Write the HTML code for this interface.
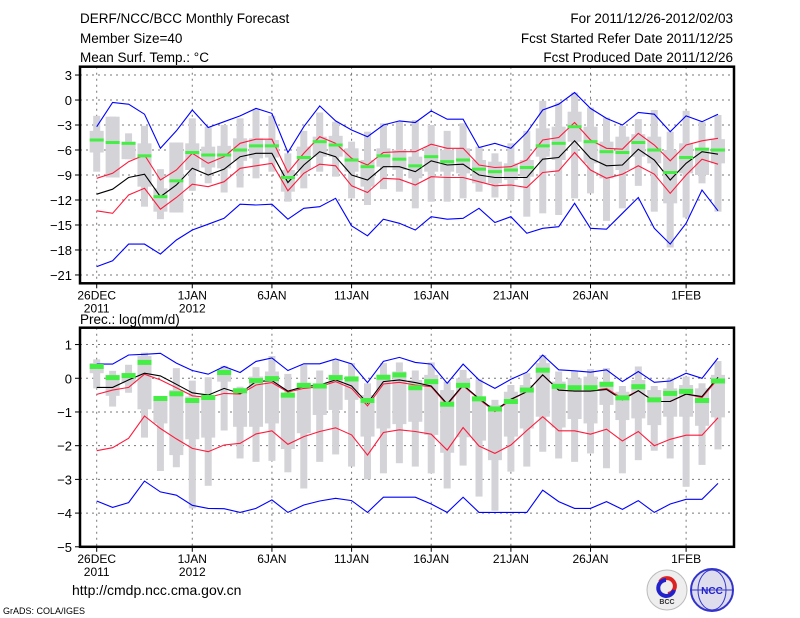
<!DOCTYPE html>
<html><head><meta charset="utf-8"><style>
body{margin:0;background:#fff;}
svg{display:block;font-family:"Liberation Sans",sans-serif;}
</style></head><body>
<svg id="c" width="800" height="618" xmlns="http://www.w3.org/2000/svg">
<g font-size="13.5" fill="#000">
<text x="80" y="23">DERF/NCC/BCC Monthly Forecast</text>
<text x="80" y="43">Member Size=40</text>
<text x="80" y="62">Mean Surf. Temp.: °C</text>
<text x="733" y="23" text-anchor="end">For 2011/12/26-2012/02/03</text>
<text x="733" y="43" text-anchor="end">Fcst Started Refer Date 2011/12/25</text>
<text x="733" y="62" text-anchor="end">Fcst Produced Date 2011/12/26</text>
<text x="80" y="324" font-size="13.5">Prec.: log(mm/d)</text>
</g>
<g id="p1"></g>
<g id="p2"></g>
<g>
<text x="72" y="595" font-size="14">http://cmdp.ncc.cma.gov.cn</text>
<text x="3" y="614" font-size="9">GrADS: COLA/IGES</text>
<g>
<circle cx="667" cy="590" r="20" fill="#eee" stroke="#bbb"/>
<path d="M660 582 a8 8 0 1 1 8 12" fill="none" stroke="#d22" stroke-width="4"/>
<path d="M674 590 a8 8 0 1 1 -8 -10" fill="none" stroke="#22c" stroke-width="4"/>
<text x="667" y="604" font-size="7" text-anchor="middle" font-weight="bold" fill="#333">BCC</text>
</g>
<g>
<circle cx="712" cy="590" r="21" fill="#dde" stroke="#33c" stroke-width="2"/>
<ellipse cx="712" cy="590" rx="14" ry="20" fill="none" stroke="#33c"/>
<line x1="691" y1="590" x2="733" y2="590" stroke="#33c"/>
<text x="712" y="594" font-size="10" text-anchor="middle" font-weight="bold" fill="#22c">NCC</text>
</g>
</g>
</svg>
<script>
// ---- temperature data (40 days from 26 Dec) ----
const tBlueTop=[-3.2,-0.3,-0.5,-1.7,-5.8,-3.7,-1.2,-3.3,-2.6,-1.9,-1.0,-1.6,-6.3,-3.2,-0.7,-2.5,-3.6,-4.4,-3.0,-2.5,-2.7,-1.3,-2.3,-2.3,-5.7,-5.2,-5.8,-3.9,-1.2,-0.5,0.9,-1.0,-2.2,-3.0,-1.5,-1.7,-3.8,-1.9,-2.6,-1.7];
const tRedTop=[-9.4,-8.8,-7.4,-6.6,-9.6,-8.4,-6.4,-7.6,-6.8,-5.2,-4.7,-4.7,-8.7,-6.4,-4.4,-5.2,-7.0,-7.8,-6.3,-6.2,-6.2,-5.3,-5.8,-5.8,-7.8,-8.1,-8.0,-7.2,-4.8,-4.5,-2.7,-4.8,-5.8,-5.9,-4.0,-5.4,-7.3,-5.4,-4.9,-4.6];
const tMean=[-11.3,-10.7,-9.3,-8.9,-11.6,-10.2,-8.2,-9.0,-8.3,-6.8,-6.4,-6.4,-9.9,-7.8,-6.2,-6.8,-9.0,-9.6,-8.0,-8.0,-8.6,-7.3,-7.8,-7.7,-9.0,-9.3,-9.3,-9.3,-7.1,-6.9,-4.9,-7.0,-7.9,-7.8,-5.9,-7.2,-9.6,-7.6,-6.2,-6.5];
const tRedBot=[-13.3,-13.6,-11.4,-10.6,-13.1,-11.7,-10.1,-10.4,-9.8,-8.2,-7.9,-7.6,-10.9,-8.8,-7.7,-7.9,-10.3,-11.1,-9.4,-9.5,-10.2,-9.2,-9.3,-9.3,-9.8,-10.3,-10.2,-10.5,-8.7,-8.5,-6.3,-8.4,-9.4,-8.9,-7.9,-8.9,-11.2,-9.0,-7.1,-7.7];
const tBlueBot=[-20.0,-19.3,-17.3,-17.3,-18.5,-16.8,-15.6,-14.9,-14.2,-12.5,-12.6,-12.5,-14.3,-13.0,-12.8,-11.8,-15.1,-16.3,-14.3,-14.8,-15.6,-14.0,-14.3,-14.2,-13.0,-14.7,-14.0,-16.0,-15.4,-15.2,-12.4,-15.4,-15.5,-13.6,-11.7,-15.4,-17.3,-14.8,-10.8,-13.3];
const tMedian=[-4.8,-5.1,-5.2,-6.7,-11.6,-9.7,-6.3,-6.6,-6.6,-6.0,-5.5,-5.5,-9.3,-6.9,-5.0,-5.4,-7.2,-8.0,-6.7,-7.1,-7.9,-6.8,-7.4,-7.2,-8.3,-8.6,-8.4,-8.1,-5.5,-5.2,-3.2,-5.0,-6.2,-6.3,-5.1,-6.0,-8.7,-6.9,-5.9,-6.0];
const tWhiskTop=[-1.9,-2.0,-4.0,-3.1,-8.3,-5.1,-2.2,-3.2,-3.0,-2.2,-1.1,-1.9,-6.4,-3.7,-1.5,-2.6,-5.0,-3.8,-2.8,-2.6,-2.4,-3.0,-3.7,-2.8,-5.6,-6.4,-5.2,-3.7,-0.1,-0.3,0.9,-0.9,-2.1,-3.1,-2.3,-1.2,-3.8,-1.3,-2.6,-1.8];
const tWhiskBot=[-8.6,-9.3,-7.1,-12.8,-14.3,-13.5,-10.9,-10.0,-11.1,-10.5,-9.4,-8.6,-12.2,-10.6,-8.6,-9.2,-11.8,-12.6,-10.7,-11.0,-13.0,-12.2,-12.2,-11.8,-11.0,-11.7,-12.0,-14.0,-13.6,-13.8,-11.8,-11.2,-14.5,-13.0,-10.3,-13.4,-17.7,-14.1,-10.0,-13.4];
const tBoxTop=[-3.7,-2.0,-5.0,-5.2,-10.6,-5.1,-5.2,-5.6,-5.5,-4.6,-4.6,-4.8,-8.4,-5.6,-4.4,-4.3,-5.8,-7.2,-5.8,-6.0,-6.8,-5.6,-6.0,-5.8,-7.2,-7.4,-7.6,-7.2,-3.4,-3.2,-1.4,-3.2,-5.0,-4.4,-4.1,-4.4,-6.0,-5.2,-5.8,-4.7];
const tBoxBot=[-6.3,-9.3,-7.1,-10.4,-13.4,-13.5,-8.4,-8.1,-8.2,-7.3,-7.0,-6.9,-11.0,-8.4,-6.8,-6.8,-8.6,-10.4,-8.0,-8.4,-9.4,-8.6,-8.6,-8.8,-10.0,-10.0,-9.6,-9.2,-6.8,-7.2,-5.0,-7.6,-9.4,-8.4,-6.8,-7.6,-12.4,-8.8,-9.0,-7.6];
const tTicks=[3,0,-3,-6,-9,-12,-15,-18,-21];
// ---- precipitation data ----
const pBlueTop=[0.42,0.42,0.69,0.71,0.74,0.45,0.23,0.12,0.35,0.17,0.5,0.6,0.23,0.43,0.43,0.57,0.43,-0.13,0.5,0.62,0.47,0.42,-0.15,0.42,-0.05,-0.3,-0.03,0.18,0.69,0.25,0.22,0.18,0.25,-0.1,0.2,-0.12,-0.08,0.15,0,0.6];
const pRedTop=[-0.48,-0.35,-0.27,0.12,-0.05,-0.28,-0.52,-0.57,-0.45,-0.47,-0.2,-0.13,-0.41,-0.3,-0.25,-0.1,-0.3,-0.82,-0.17,-0.12,-0.2,-0.25,-0.79,-0.22,-0.62,-0.99,-0.64,-0.4,0.1,-0.35,-0.38,-0.38,-0.3,-0.6,-0.37,-0.69,-0.69,-0.47,-0.57,-0.02];
const pMean=[-0.27,-0.27,-0.05,0.15,0.07,-0.18,-0.43,-0.5,-0.3,-0.45,-0.1,-0.07,-0.38,-0.25,-0.2,-0.05,-0.23,-0.74,-0.1,-0.05,-0.13,-0.23,-0.76,-0.2,-0.6,-0.96,-0.62,-0.4,0.1,-0.35,-0.38,-0.38,-0.33,-0.64,-0.37,-0.69,-0.69,-0.47,-0.54,0.03];
const pRedBot=[-2.15,-2.06,-1.78,-1.12,-1.49,-1.8,-2.08,-2.18,-1.98,-1.93,-1.65,-1.56,-1.96,-1.73,-1.58,-1.47,-1.68,-2.28,-1.61,-1.53,-1.58,-1.66,-2.13,-1.46,-2.01,-2.23,-1.98,-1.55,-1.14,-1.56,-1.56,-1.66,-1.51,-1.86,-1.58,-2.0,-1.81,-1.69,-1.69,-1.17];
const pBlueBot=[-3.64,-3.83,-3.69,-3.05,-3.37,-3.47,-3.77,-3.86,-3.87,-3.98,-3.86,-3.61,-3.98,-3.76,-3.64,-3.56,-3.63,-3.98,-3.53,-3.53,-3.53,-3.73,-3.98,-3.53,-3.98,-3.98,-3.98,-3.98,-3.32,-3.66,-3.86,-3.86,-3.66,-3.89,-3.63,-3.98,-3.73,-3.59,-3.59,-3.12];
const pMedian=[0.35,0.02,0.08,0.47,-0.6,-0.46,-0.66,-0.57,0.17,-0.37,-0.07,-0.01,-0.5,-0.21,-0.23,0.02,-0.02,-0.66,0.03,0.1,-0.28,-0.1,-0.77,-0.21,-0.61,-0.91,-0.69,-0.35,0.24,-0.24,-0.28,-0.28,-0.18,-0.58,-0.25,-0.64,-0.45,-0.39,-0.66,-0.08];
const pWhiskTop=[0.56,0.22,0.4,0.76,-0.54,0.3,-0.07,0.03,0.37,-0.25,0.33,0.66,0.13,0.4,0.23,0.54,0.45,-0.15,0.45,0.47,0.23,0.47,-0.1,0.25,-0.03,-0.64,-0.2,0.15,0.69,0.2,0.22,0.27,0.3,-0.23,0.35,-0.23,0,0.05,-0.15,0.51];
const pWhiskBot=[-0.3,-0.84,-0.43,-1.76,-2.75,-2.64,-3.86,-3.19,-1.55,-2.38,-2.48,-2.45,-2.79,-3.27,-2.48,-2.26,-2.62,-3.0,-2.82,-2.52,-2.62,-2.82,-3.27,-2.59,-3.51,-3.93,-2.77,-2.62,-2.18,-2.38,-2.48,-2.23,-2.67,-2.82,-2.43,-2.15,-2.38,-3.22,-2.57,-2.11];
const pBoxTop=[0.45,0.07,0.15,0.66,-0.6,-0.35,-0.54,-0.54,0.27,-0.3,0.05,0.2,-0.5,-0.17,-0.15,0.1,0.05,-0.5,0.1,0.2,-0.05,0.1,-0.35,0,-0.54,-0.79,-0.4,-0.2,0.45,-0.1,0,0.05,-0.1,-0.4,-0.05,-0.35,-0.3,-0.2,-0.3,0.1];
const pBoxBot=[0.15,-0.52,-0.15,-0.92,-1.34,-2.28,-1.81,-1.76,-0.1,-1.44,-1.44,-1.34,-2.1,-1.63,-1.09,-0.94,-0.64,-1.73,-1.49,-1.36,-1.29,-1.68,-2.21,-1.75,-1.85,-2.43,-1.73,-1.49,-1.14,-1.46,-1.21,-1.34,-0.79,-1.24,-1.19,-1.39,-1.14,-1.14,-1.41,-1.16];
const pTicks=[1,0,-1,-2,-3,-4,-5];
// ---- x axis ----
const xTickDays=[0,6,11,16,21,26,31,37];
const xTickLabels=["26DEC","1JAN","6JAN","11JAN","16JAN","21JAN","26JAN","1FEB"];
const xTickYears=["2011","2012","","","","","",""];

const NS="http://www.w3.org/2000/svg";
function mk(parent,tag,attrs){const e=document.createElementNS(NS,tag);for(const k in attrs)e.setAttribute(k,attrs[k]);parent.appendChild(e);return e;}
const X0=80,X1=734;
function xs(d){return 96.7+d*15.93;}

function panel(g,top,bot,vmax,vmin,ticks,d,opt){
  const ys=v=>top+(vmax-v)/(vmax-vmin)*(bot-top);
  // grid
  ticks.forEach(t=>{
    const y=ys(t);
    if(t>vmin&&t<vmax){const l=mk(g,'line',{x1:X0,x2:X1,y1:y,y2:y,stroke:'#777','stroke-dasharray':'2,4','stroke-width':1});
    
    }
    const tk=mk(g,'line',{x1:X0-5,x2:X0,y1:y,y2:y,stroke:'#000'});
    
    
    const tx=mk(g,'text',{x:X0-8,y:y+5,'text-anchor':'end','font-size':13});
    tx.textContent=String(t).replace('-','\u2212');
    
    
  });
  xTickDays.forEach((dd,i)=>{
    const x=xs(dd);
    const l=mk(g,'line',{x1:x,x2:x,y1:top,y2:bot,stroke:'#777','stroke-dasharray':'2,4'});
    
    
    const tk=mk(g,'line',{x1:x,x2:x,y1:bot,y2:bot+5,stroke:'#000'});
    
    
    const t=mk(g,'text',{x:x,y:bot+16,'text-anchor':'middle','font-size':12});
    t.textContent=xTickLabels[i];
    
    
    if(xTickYears[i]){const t2=mk(g,'text',{x:x,y:bot+29,'text-anchor':'middle','font-size':12});
    t2.textContent=xTickYears[i];
    
    }
  });
  // bars
  for(let i=0;i<d.mean.length;i++){
    const x=xs(i);
    const w=mk(g,'rect',{x:x-3.5,y:ys(d.wt[i]),width:7,height:ys(d.wb[i])-ys(d.wt[i]),fill:'#d3d3d8'});
    
    
    const b=mk(g,'rect',{x:x-7,y:ys(d.bt[i]),width:14,height:ys(d.bb[i])-ys(d.bt[i]),fill:'#d3d3d8'});
    
    
  }
  function line(arr,col,name){
    const p=mk(g,'polyline',{points:arr.map((v,i)=>xs(i).toFixed(1)+','+ys(v).toFixed(1)).join(' '),fill:'none',stroke:col,'stroke-width':1.1});
    
    
  }
  line(d.bt2,'#0000ff','max-line');line(d.bb2,'#0000ff','min-line');
  line(d.rt,'#ff1a3c','upper-line');line(d.rb,'#ff1a3c','lower-line');
  line(d.mean,'#000','mean-line');
  for(let i=0;i<d.med.length;i++){
    const r=mk(g,'rect',{x:xs(i)-7,y:ys(d.med[i])-opt.gh/2,width:14,height:opt.gh,fill:'#44ee44'});
    
    
  }
  const f=mk(g,'rect',{x:X0,y:top,width:X1-X0,height:bot-top,fill:'none',stroke:'#000','stroke-width':2.5});
  
  
}
panel(document.getElementById('p1'),66.7,283.3,4,-22,tTicks,
 {bt2:tBlueTop,bb2:tBlueBot,rt:tRedTop,rb:tRedBot,mean:tMean,med:tMedian,wt:tWhiskTop,wb:tWhiskBot,bt:tBoxTop,bb:tBoxBot},{gh:3});
panel(document.getElementById('p2'),327.7,546.8,1.5,-5,pTicks,
 {bt2:pBlueTop,bb2:pBlueBot,rt:pRedTop,rb:pRedBot,mean:pMean,med:pMedian,wt:pWhiskTop,wb:pWhiskBot,bt:pBoxTop,bb:pBoxBot},{gh:5});
</script>
</body></html>
